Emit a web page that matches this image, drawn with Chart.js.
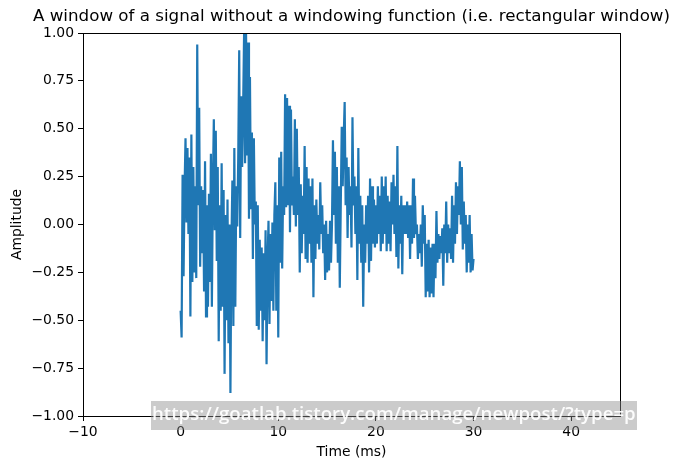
<!DOCTYPE html>
<html>
<head>
<meta charset="utf-8">
<script src="https://cdn.jsdelivr.net/npm/chart.js@4"></script>
<style>
  html, body { margin: 0; padding: 0; background: #fff; }
  #wrap { width: 677px; height: 470px; }
</style>
</head>
<body>
<div id="wrap"><canvas id="chart" width="677" height="470"></canvas></div>
<script>
// sample spacing of the signal, in ms
const sampleStepMs = 0.1;

// amplitude, 0 - 10 ms
const ampPart1 = [
    -0.45, -0.59, 0.26, -0.27, 0.18, 0.45, 0.01, 0.40, -0.05, 0.35,
    -0.48, 0.47, -0.30, 0.30, -0.25, 0.20, -0.28, 0.94, 0.10, 0.61,
    -0.22, 0.20, -0.15, 0.18, -0.35, 0.33, -0.48, 0.10, -0.43, 0.16,
    -0.30, 0.37, -0.43, 0.20, 0.55, -0.03, 0.49, -0.19, 0.30, -0.61,
    0.10, -0.45, 0.32, -0.43, 0.18, -0.78, 0.05, -0.50, 0.13, -0.62,
    0.00, -0.88, -0.10, 0.23, -0.53, 0.40, -0.43, 0.20, -0.01, 0.35,
    0.91, -0.07, 0.67, 0.30, 0.60, 1.00, 0.32, 1.00, 0.36, 0.95,
    0.03, 0.77, 0.08, 0.48, -0.18, 0.45, 0.00, 0.12, -0.53, 0.10,
    -0.55, -0.08, -0.45, -0.12, -0.61, -0.15, -0.50, -0.03, -0.73, -0.20,
    0.02, -0.52, -0.05, -0.40, 0.01, -0.45, 0.05, 0.22, -0.45, 0.10
];
// 10 - 20 ms
const ampPart2 = [
    -0.59, 0.35, -0.20, 0.38, -0.23, 0.20, 0.05, 0.68, 0.09, 0.66,
    0.10, 0.62, -0.04, 0.60, 0.10, 0.25, 0.05, 0.55, -0.01, 0.50,
    0.05, 0.30, -0.25, 0.21, -0.15, 0.15, -0.05, 0.41, -0.18, 0.30,
    -0.20, 0.24, -0.10, 0.20, -0.20, 0.24, -0.38, 0.10, -0.18, 0.13,
    -0.10, 0.05, -0.13, 0.22, -0.05, 0.10, -0.15, 0.00, -0.29, 0.02,
    -0.25, -0.05, -0.24, 0.02, -0.20, 0.00, 0.44, 0.05, 0.38, -0.10,
    0.30, -0.20, 0.20, -0.33, 0.10, 0.51, 0.20, 0.45, 0.64, 0.10,
    0.35, -0.07, 0.30, 0.05, 0.20, -0.12, 0.56, 0.10, 0.25, -0.05,
    0.20, -0.29, 0.40, -0.10, 0.15, -0.20, 0.10, -0.43, 0.00, -0.20,
    0.10, -0.10, 0.15, -0.25, 0.24, -0.19, 0.20, -0.10, 0.13, -0.12
];
// 20 - 30 ms
const ampPart3 = [
    0.10, -0.10, 0.20, -0.05, 0.15, -0.14, 0.25, -0.10, 0.20, -0.05,
    0.25, -0.14, 0.15, -0.10, 0.12, -0.14, 0.22, 0.00, 0.26, -0.05,
    0.20, -0.17, 0.41, -0.23, 0.10, -0.10, 0.15, -0.26, 0.10, -0.05,
    0.10, -0.05, 0.12, -0.07, 0.10, -0.18, 0.10, -0.10, 0.24, -0.07,
    0.15, -0.05, 0.00, -0.18, -0.05, -0.15, 0.00, -0.22, 0.10, -0.10,
    0.05, -0.38, -0.10, -0.35, -0.08, -0.38, -0.12, -0.36, -0.10, -0.38,
    -0.10, -0.28, 0.07, -0.20, -0.05, -0.18, -0.06, -0.15, -0.02, -0.32,
    0.00, -0.15, 0.12, -0.20, 0.00, -0.15, -0.02, -0.18, 0.15, -0.20,
    0.10, -0.10, 0.22, -0.05, 0.20, 0.05, 0.33, 0.00, 0.30, -0.13,
    0.12, -0.10, 0.05, -0.25, 0.00, -0.20, 0.05, -0.25, -0.05, -0.24,
    -0.18
];

const xTicks = [-10, 0, 10, 20, 30, 40];
const yTicks = [-1, -0.75, -0.5, -0.25, 0, 0.25, 0.5, 0.75, 1];

const titleText = 'A window of a signal without a windowing function (i.e. rectangular window)';
const xLabel = 'Time (ms)';
const yLabel = 'Amplitude';
const watermark = 'https://goatlab.tistory.com/manage/newpost/?type=p';

const amplitude = ampPart1.concat(ampPart2, ampPart3);
const points = amplitude.map((v, i) => ({ x: +(i * sampleStepMs).toFixed(1), y: v }));

const minus = n => (n < 0 ? '\u2212' : '') + Math.abs(n);
const tickFont = { family: 'DejaVu Sans', size: 13.9 };

// matplotlib-ish frame, title, axis labels and the blog watermark
const decorations = {
    id: 'decorations',
    afterDatasetsDraw(chart) {
        const { ctx, chartArea: a } = chart;
        ctx.save();
        ctx.strokeStyle = '#000';
        ctx.lineWidth = 1;
        ctx.strokeRect(Math.round(a.left) + 0.5, Math.round(a.top) + 0.5,
            Math.round(a.right - a.left), Math.round(a.bottom - a.top));
        ctx.restore();
    },
    afterDraw(chart) {
        const { ctx, chartArea: a } = chart;
        const cx = (a.left + a.right) / 2;
        ctx.save();
        ctx.fillStyle = '#000';
        ctx.textAlign = 'center';
        ctx.textBaseline = 'middle';
        ctx.font = '16.7px "DejaVu Sans"';
        ctx.fillText(titleText, cx, 17);
        ctx.font = '13.9px "DejaVu Sans"';
        ctx.fillText(xLabel, cx, 452);
        ctx.translate(17, (a.top + a.bottom) / 2);
        ctx.rotate(-Math.PI / 2);
        ctx.fillText(yLabel, 0, 0);
        ctx.restore();

        // watermark box
        ctx.save();
        ctx.fillStyle = 'rgba(140,140,140,0.45)';
        ctx.fillRect(151, 401, 486, 29);
        ctx.font = '600 19px "Open Sans"';
        const w = ctx.measureText(watermark).width;
        const size = 19 * 484 / w;
        ctx.font = '600 ' + size.toFixed(2) + 'px "Open Sans"';
        ctx.fillStyle = 'rgba(255,255,255,0.95)';
        ctx.textAlign = 'left';
        ctx.textBaseline = 'middle';
        ctx.fillText(watermark, 152, 415);
        ctx.restore();
    }
};

new Chart(document.getElementById('chart'), {
    type: 'line',
    data: {
        datasets: [{
            data: points,
            borderColor: '#1f77b4',
            borderWidth: 2.2,
            pointRadius: 0,
            tension: 0,
            fill: false
        }]
    },
    options: {
        responsive: false,
        animation: false,
        devicePixelRatio: 1,
        layout: { padding: { left: 0, right: 57, top: 33, bottom: 0 } },
        plugins: {
            legend: { display: false },
            tooltip: { enabled: false },
            title: { display: false }
        },
        scales: {
            x: {
                type: 'linear',
                min: -10,
                max: 45,
                afterFit(s) { s.height = 54; },
                afterBuildTicks(s) { s.ticks = xTicks.map(v => ({ value: v })); },
                ticks: {
                    font: tickFont,
                    color: '#000',
                    padding: 3,
                    maxRotation: 0,
                    autoSkip: false,
                    callback: v => minus(v)
                },
                grid: { drawOnChartArea: false, drawTicks: true, tickLength: 5, color: '#000', tickColor: '#000' },
                border: { display: true, color: '#000' }
            },
            y: {
                min: -1,
                max: 1,
                afterFit(s) { s.width = 83; },
                afterBuildTicks(s) { s.ticks = yTicks.map(v => ({ value: v })); },
                ticks: {
                    font: tickFont,
                    color: '#000',
                    padding: 4,
                    autoSkip: false,
                    callback: v => (v < 0 ? '\u2212' : '') + Math.abs(v).toFixed(2)
                },
                grid: { drawOnChartArea: false, drawTicks: true, tickLength: 5, color: '#000', tickColor: '#000' },
                border: { display: true, color: '#000' }
            }
        }
    },
    plugins: [decorations]
});
</script>
</body>
</html>
